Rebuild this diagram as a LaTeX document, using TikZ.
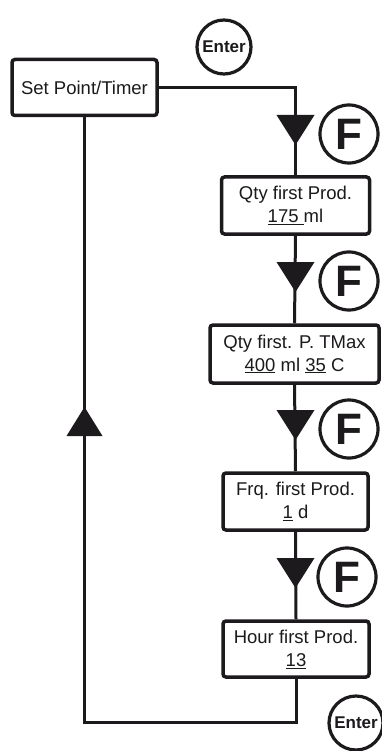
\documentclass[tikz,border=0pt]{standalone}
\usepackage{fontspec}
\setmainfont{Liberation Sans}
\definecolor{ink}{RGB}{28,26,28}
\begin{document}
\begin{tikzpicture}[x=1pt,y=-1pt,
  box/.style={draw=ink, text=ink, line width=3.5pt, rounded corners=3pt, inner sep=0pt, align=center,
    font=\fontsize{18.5}{23}\selectfont},
  conn/.style={draw=ink, line width=3pt},
  keyc/.style={circle, draw=ink, text=ink, line width=3.2pt, inner sep=0pt},
  enterk/.style={keyc, minimum size=54pt, font=\fontsize{17}{17}\selectfont\bfseries},
  fkey/.style={keyc, minimum size=58pt, font=\fontsize{44}{44}\selectfont\bfseries},
  tri/.style={fill=ink}
]
\useasboundingbox (0,0) rectangle (382,751);
\fill[white] (0,0) rectangle (382,751);

% boxes
\node[box, minimum width=145pt, minimum height=56pt] (set) at (84.5,87.5) {Set Point/Timer};
\node[box, minimum width=148pt, minimum height=57pt] (q1) at (295.5,205.5) {Qty first Prod.\\\underline{175\ }ml};
\node[box, minimum width=169pt, minimum height=58pt] (q2) at (294.5,354) {Qty first. P. TMax\\\underline{400} ml \underline{35} C};
\node[box, minimum width=145pt, minimum height=57pt] (frq) at (295.5,501.5) {Frq. first Prod.\\\underline{1} d};
\node[box, minimum width=146pt, minimum height=56pt] (hour) at (296,649) {Hour first Prod.\\\underline{13}};

% keys
\node[enterk] (ent1) at (224,47) {Enter};
\node[enterk] (ent2) at (356,723) {Enter};
\node[fkey] (f1) at (349,134) {F};
\node[fkey] (f2) at (349,281) {F};
\node[fkey] (f3) at (349,429) {F};
\node[fkey] (f4) at (347,577) {F};

% connectors
\coordinate (lowY) at (0,722);
\draw[conn] (set.east) -| (q1.north);
\draw[conn] (q1.south) -- (q2.north);
\draw[conn] (q2.south) -- (frq.north);
\draw[conn] (frq.south) -- (hour.north);
\draw[conn] (hour.south) -- (hour.south |- lowY) -| (set.south);

% arrowheads
\coordinate (t1) at (295.5,115);
\coordinate (t2) at (295.5,262);
\coordinate (t3) at (295.5,410);
\coordinate (t4) at (295.5,558);
\foreach \t in {t1,t2,t3,t4}
  \fill[tri] (\t) ++(-19,0) -- ++(38,0) -- ++(-19,30) -- cycle;
\coordinate (up) at (84.5,436);
\fill[tri] (up) ++(-18,0) -- ++(36,0) -- ++(-18,-29) -- cycle;
\end{tikzpicture}
\end{document}
